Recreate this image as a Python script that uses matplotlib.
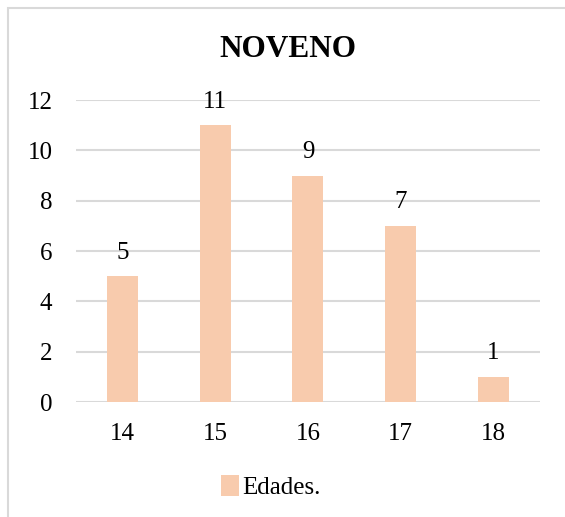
import matplotlib.pyplot as plt
from matplotlib.patches import Rectangle

ages = ['14', '15', '16', '17', '18']
counts = [5, 11, 9, 7, 1]
yticks = [0, 2, 4, 6, 8, 10, 12]

plt.rcParams['font.family'] = ['Liberation Serif', 'DejaVu Serif']

bar_color = '#F8CBAD'
grid_color = '#D9D9D9'

fig = plt.figure(figsize=(5.65, 5.17), dpi=100)
ax = fig.add_axes([0.1345, 0.2224, 0.8212, 0.5841])

x = range(len(ages))
bars = ax.bar(x, counts, width=0.334, color=bar_color, label='Edades.', zorder=3)

for xi, v in zip(x, counts):
    ax.annotate(str(v), (xi, v), xytext=(0, 9), textcoords='offset points',
                ha='center', va='bottom', fontsize=18)

ax.set_xlim(-0.5, len(ages) - 0.5)
ax.set_ylim(0, 12)
ax.set_yticks(yticks)
ax.set_xticks(list(x))
ax.set_xticklabels(ages)
ax.tick_params(axis='both', length=0, labelsize=18)
ax.tick_params(axis='y', pad=17)
ax.tick_params(axis='x', pad=15)
ax.yaxis.grid(True, color=grid_color, linewidth=1.5, zorder=0)
for s in ax.spines.values():
    s.set_visible(False)

fig.text(288 / 565, 1 - 50 / 517, 'NOVENO', fontsize=22.5, fontweight='bold',
         ha='center', va='center')

leg = fig.legend(loc='center', bbox_to_anchor=(271 / 565, 1 - 487 / 517), frameon=False,
                 fontsize=18, handlelength=0.7, handleheight=0.9, handletextpad=0.15)

# outer chart frame
fig.patches.append(Rectangle((8 / 565, -0.1), 1.2, (517 - 8) / 517 + 0.1,
                             transform=fig.transFigure, fill=False,
                             edgecolor=grid_color, linewidth=1.5))

fig.savefig('out.png', dpi=100)
